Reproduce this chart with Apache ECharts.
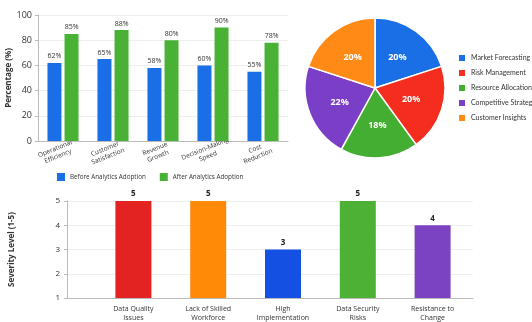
<!DOCTYPE html>
<html><head><meta charset="utf-8">
<script src="https://cdn.jsdelivr.net/npm/echarts@6/dist/echarts.min.js"></script>
<style>html,body{margin:0;padding:0;background:#fff}#c{width:532px;height:322px}</style>
</head><body><div id="c"></div>
<script>
const areas = ['Operational\nEfficiency','Customer\nSatisfaction','Revenue\nGrowth','Decision-Making\nSpeed','Cost\nReduction'];
const before = [62,65,58,60,55];
const after = [85,88,80,90,78];
const pieNames = ['Market Forecasting','Risk Management','Resource Allocation','Competitive Strategy','Customer Insights'];
const pieValues = [20,20,18,22,20];
const challenges = ['Data Quality\nIssues','Lack of Skilled\nWorkforce','High\nImplementation\nCosts','Data Security\nRisks','Resistance to\nChange'];
const severity = [5,5,3,5,4];

const pieColors = ['#1a6fe6','#f42d1e','#43ae32','#7a3fc6','#ff8a15'];
const sevColors = ['#e32222','#ff8a08','#1450e2','#4cb134','#7b42c2'];
const F = 'Open Sans';
const axisLine = {show:true,lineStyle:{color:'#bbb'}};
const split = {show:true,lineStyle:{color:'#eee'}};

const chart = echarts.init(document.getElementById('c'));
chart.setOption({
  textStyle:{fontFamily:F},
  animation:false,
  legend:[{
    data:['Before Analytics Adoption','After Analytics Adoption'],
    left:52, top:168, itemWidth:8, itemHeight:8, itemGap:14,
    textStyle:{fontSize:6.3,color:'#333',fontFamily:F}, icon:'rect'
  },{
    data:pieNames, orient:'vertical', left:452, top:48, width:200, itemWidth:8, itemHeight:8, itemGap:5,
    textStyle:{fontSize:7,color:'#333',fontFamily:'Lato',overflow:'none'}, icon:'rect'
  }],
  grid:[
    {left:38,right:244,top:15,bottom:181,outerBoundsMode:'none'},
    {left:67,right:59,top:201,bottom:24,outerBoundsMode:'none'},
    {left:96,right:62,top:201,bottom:24,outerBoundsMode:'none'}
  ],
  xAxis:[
    {gridIndex:0,type:'category',data:areas,axisLine:axisLine,axisTick:{show:false},
      axisLabel:{rotate:22,fontSize:6.5,color:'#333',interval:0,margin:9,lineHeight:8,align:'center',verticalAlign:'middle',padding:[0,14,0,0]}},
    {gridIndex:1,type:'value',min:0,max:1,axisLine:axisLine,axisTick:{show:false},axisLabel:{show:false},splitLine:{show:false}},
    {gridIndex:2,type:'category',data:challenges,axisLine:{show:false},axisTick:{show:false},
      axisLabel:{fontSize:7,color:'#333',interval:0,margin:6,lineHeight:9}}
  ],
  yAxis:[
    {gridIndex:0,type:'value',min:0,max:100,interval:20,axisLine:axisLine,axisTick:{show:true,length:3,lineStyle:{color:'#bbb'}},
      axisLabel:{fontSize:9,color:'#333',margin:6},splitLine:split,
      name:'Percentage (%)',nameLocation:'middle',nameGap:22,nameTextStyle:{fontSize:8,fontWeight:'bold',color:'#333'}},
    {gridIndex:1,type:'value',min:1,max:5,interval:1,axisLine:axisLine,axisTick:{show:true,length:3,lineStyle:{color:'#bbb'}},
      axisLabel:{fontSize:8,color:'#333',margin:7},splitLine:split,
      name:'Severity Level (1-5)',nameLocation:'middle',nameGap:51,nameTextStyle:{fontSize:8,fontWeight:'bold',color:'#333'}},
    {gridIndex:2,type:'value',min:1,max:5,interval:1,show:false,splitLine:{show:false}}
  ],
  series:[
    {name:'Before Analytics Adoption',type:'bar',xAxisIndex:0,yAxisIndex:0,data:before,barWidth:14,barGap:'22%',
      itemStyle:{color:'#1a6fe6'},label:{show:true,position:'top',formatter:'{c}%',fontSize:7,color:'#333',distance:3}},
    {name:'After Analytics Adoption',type:'bar',xAxisIndex:0,yAxisIndex:0,data:after,barWidth:14,
      itemStyle:{color:'#49b234'},label:{show:true,position:'top',formatter:'{c}%',fontSize:7,color:'#333',distance:3}},
    {type:'pie',center:[375,88],radius:70,startAngle:90,clockwise:true,
      data:pieNames.map((n,i)=>({name:n,value:pieValues[i],itemStyle:{color:pieColors[i]}})),
      itemStyle:{borderColor:'#fff',borderWidth:1.5},
      label:{show:true,position:'inside',formatter:'{c}%',color:'#fff',fontWeight:'bold',fontSize:9},
      labelLine:{show:false}},
    {type:'bar',xAxisIndex:2,yAxisIndex:2,barWidth:36,
      data:severity.map((v,i)=>({value:v,itemStyle:{color:sevColors[i]}})),
      label:{show:true,position:'top',fontSize:8,fontWeight:'bold',color:'#222',distance:3}}
  ]
});
</script></body></html>
